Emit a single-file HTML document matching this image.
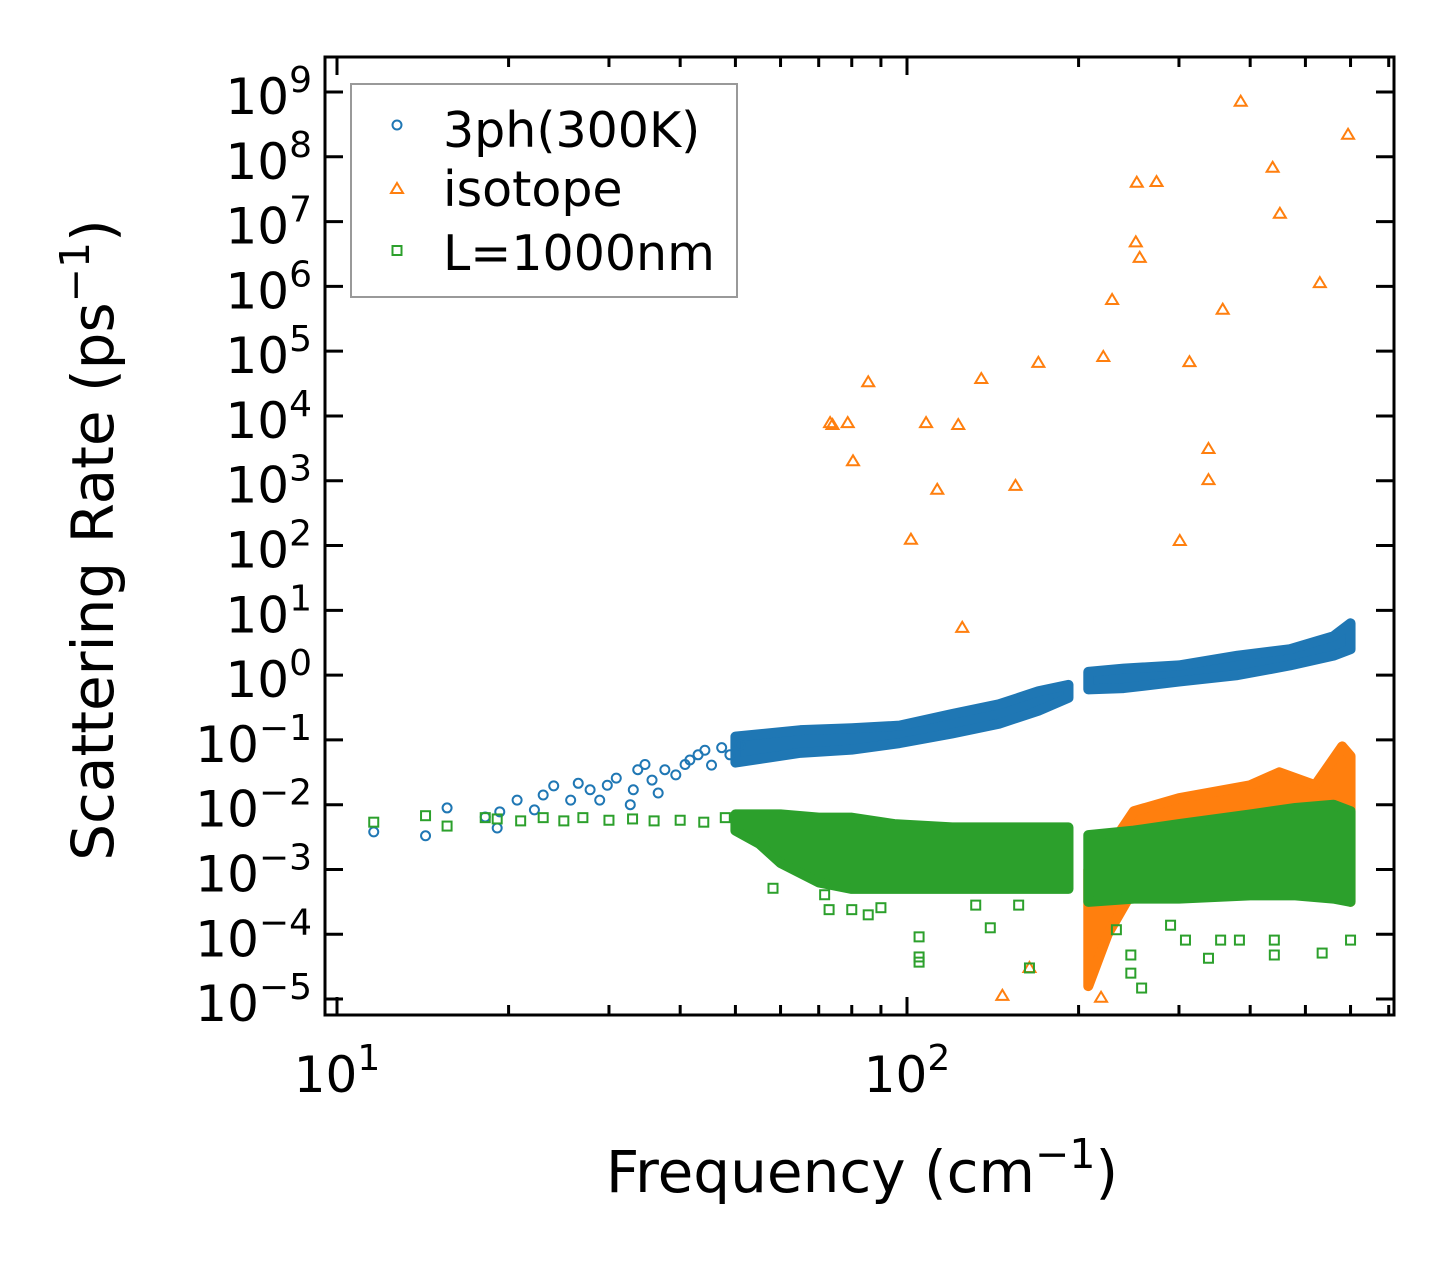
<!DOCTYPE html>
<html><head><meta charset="utf-8"><style>
body{margin:0;background:#fff}
svg text{font-family:"DejaVu Sans","Liberation Sans",sans-serif;fill:#000}
</style></head><body>
<svg id="chart" width="1455" height="1265" xmlns="http://www.w3.org/2000/svg">
<rect width="1455" height="1265" fill="#fff"/>
<g id="marks"></g>
<g id="axes"></g>
<g>
<rect x="351" y="84" width="386" height="213" fill="#fff" fill-opacity="0.8" stroke="#999" stroke-width="2"/>
<circle cx="397" cy="125" r="4.5" fill="none" stroke="#1f77b4" stroke-width="2"/>
<text x="443" y="147" font-size="49">3ph(300K)</text>
<polygon points="397,183 403,193 391,193" fill="none" stroke="#ff7f0e" stroke-width="2"/>
<text x="443" y="206" font-size="49">isotope</text>
<rect x="392.5" y="246" width="9" height="9" fill="none" stroke="#2ca02c" stroke-width="2"/>
<text x="443" y="270" font-size="49">L=1000nm</text>
</g>
<text x="862" y="1192" font-size="58" text-anchor="middle">Frequency (cm<tspan dy="-24" font-size="41">−1</tspan><tspan dy="24">)</tspan></text>
<text transform="translate(113,540) rotate(-90)" font-size="58" text-anchor="middle">Scattering Rate (ps<tspan dy="-24" font-size="41">−1</tspan><tspan dy="24">)</tspan></text>
</svg>
<script>
// ---- data ----
const blueFreq=[11.6,14.3,15.6,18.2,19.1,19.3,20.7,22.2,23,24,25.7,26.5,27.8,28.9,29.8,30.9,32.7,33.1,33.7,34.7,35.7,36.6,37.6,39.3,40.8,41.6,43,44.2,45.4,47.3,48.9,50.9];
const blueLog=[-2.42,-2.48,-2.05,-2.19,-2.36,-2.11,-1.93,-2.08,-1.85,-1.71,-1.93,-1.67,-1.77,-1.93,-1.70,-1.59,-2.0,-1.77,-1.46,-1.38,-1.62,-1.82,-1.46,-1.54,-1.38,-1.31,-1.23,-1.16,-1.39,-1.12,-1.23,-1.08];
const blueBand1Freq=[50,65,80,97,120,145,170,192];
const blueBand1Lo=[-1.35,-1.2,-1.15,-1.05,-0.9,-0.75,-0.55,-0.35];
const blueBand1Hi=[-0.95,-0.85,-0.82,-0.78,-0.6,-0.45,-0.25,-0.15];
const blueBand2Freq=[208,240,300,380,470,560,600];
const blueBand2Lo=[-0.22,-0.2,-0.1,0.0,0.15,0.3,0.4];
const blueBand2Hi=[0.05,0.1,0.15,0.3,0.4,0.6,0.8];

const isoFreq=[73.3,74,78.7,80.4,85.5,101.6,108,113,123,125,135,147,155,164,170,219,221,229,252,256,253,274,301,313,338,338,358,385,438,451,530,594];
const isoLog=[3.89,3.86,3.89,3.30,4.52,2.09,3.89,2.86,3.86,0.73,4.57,-4.95,2.92,-4.52,4.82,-4.98,4.91,5.79,6.68,6.44,7.60,7.61,2.07,4.83,3.49,3.01,5.64,8.85,7.83,7.12,6.05,8.34];
const isoBandFreq=[208,225,250,300,400,450,520,580,600];
const isoBandLo=[-4.8,-4.0,-3.3,-3.2,-3.0,-3.0,-2.9,-3.0,-3.5];
const isoBandHi=[-3.0,-2.7,-2.1,-1.9,-1.7,-1.5,-1.7,-1.1,-1.25];

const bFreq=[11.6,14.3,15.6,18.2,19.1,21,23,25,27,30,33,36,40,44,48,58.2,71.7,73,80,85.5,90,105,105,105,140,164,157,132,233,247,258,247,308,338,355,383,441,535,600,441,290];
const bLog=[-2.27,-2.17,-2.33,-2.2,-2.22,-2.25,-2.2,-2.25,-2.2,-2.24,-2.22,-2.25,-2.24,-2.27,-2.2,-3.29,-3.39,-3.62,-3.62,-3.70,-3.59,-4.04,-4.35,-4.43,-3.90,-4.52,-3.55,-3.55,-3.93,-4.60,-4.83,-4.32,-4.09,-4.37,-4.09,-4.09,-4.32,-4.29,-4.09,-4.09,-3.86];
const bBand1Freq=[50,55,60,70,80,95,120,150,192];
const bBand1Lo=[-2.4,-2.6,-2.9,-3.2,-3.3,-3.3,-3.3,-3.3,-3.3];
const bBand1Hi=[-2.15,-2.15,-2.15,-2.2,-2.2,-2.3,-2.35,-2.35,-2.35];
const bBand2Freq=[208,250,300,400,480,560,600];
const bBand2Lo=[-3.5,-3.45,-3.45,-3.4,-3.4,-3.45,-3.5];
const bBand2Hi=[-2.47,-2.4,-2.3,-2.15,-2.05,-2.0,-2.1];

const xTicks=[1,2];
const yTicks=[-5,-4,-3,-2,-1,0,1,2,3,4,5,6,7,8,9];

// ---- axes functions ----
const X0=325,X1=1394,Y0=57,Y1=1015;
const xs=f=>337+(Math.log10(f)-1)*570;
const ys=l=>92+(9-l)*64.79;
const NS='http://www.w3.org/2000/svg';
const marks=document.getElementById('marks'),axes=document.getElementById('axes');
function mk(tag,attrs,parent){const e=document.createElementNS(NS,tag);for(const k in attrs)e.setAttribute(k,attrs[k]);parent.appendChild(e);return e;}

function band(fr,lo,hi,color,name){
  let d='M'+fr.map((f,i)=>xs(f)+','+ys(hi[i])).join('L');
  for(let i=fr.length-1;i>=0;i--)d+='L'+xs(fr[i])+','+ys(lo[i]);
  const p=mk('path',{d:d+'Z',fill:color,stroke:color,'stroke-width':10,'stroke-linejoin':'round'},marks);
  
  
}
band(blueBand1Freq,blueBand1Lo,blueBand1Hi,'#1f77b4','band-3ph-low');
band(blueBand2Freq,blueBand2Lo,blueBand2Hi,'#1f77b4','band-3ph-high');
blueFreq.forEach((f,i)=>{
  const c=mk('circle',{cx:xs(f),cy:ys(blueLog[i]),r:4.5,fill:'none',stroke:'#1f77b4','stroke-width':2},marks);
  
  
});
band(isoBandFreq,isoBandLo,isoBandHi,'#ff7f0e','band-isotope');
isoFreq.forEach((f,i)=>{
  const x=xs(f),y=ys(isoLog[i]);
  const t=mk('polygon',{points:`${x},${y-6} ${x+6},${y+4} ${x-6},${y+4}`,fill:'none',stroke:'#ff7f0e','stroke-width':2},marks);
  
  
});
band(bBand1Freq,bBand1Lo,bBand1Hi,'#2ca02c','band-boundary-low');
band(bBand2Freq,bBand2Lo,bBand2Hi,'#2ca02c','band-boundary-high');
bFreq.forEach((f,i)=>{
  const x=xs(f),y=ys(bLog[i]);
  const r=mk('rect',{x:x-4.5,y:y-4.5,width:9,height:9,fill:'none',stroke:'#2ca02c','stroke-width':2},marks);
  
  
});

const fr=mk('rect',{x:X0,y:Y0,width:X1-X0,height:Y1-Y0,fill:'none',stroke:'#000','stroke-width':3},axes);


for(let d=1;d<=2;d++)for(let m=1;m<10;m++){
  const f=m*Math.pow(10,d);const x=xs(f);if(x>X1)continue;
  const L=m===1?18:10;
  mk('line',{x1:x,y1:Y1,x2:x,y2:Y1-L,stroke:'#000','stroke-width':3},axes);
  mk('line',{x1:x,y1:Y0,x2:x,y2:Y0+L,stroke:'#000','stroke-width':3},axes);
}
xTicks.forEach(p=>{
  const t=mk('text',{x:xs(Math.pow(10,p)),y:1092,'font-size':50,'text-anchor':'middle'},axes);
  
  
  t.innerHTML=`10<tspan dy="-22" font-size="36">${p}</tspan>`;
});
yTicks.forEach(p=>{
  const y=ys(p);
  mk('line',{x1:X0,y1:y,x2:X0+18,y2:y,stroke:'#000','stroke-width':3},axes);
  mk('line',{x1:X1,y1:y,x2:X1-18,y2:y,stroke:'#000','stroke-width':3},axes);
  const t=mk('text',{x:312,y:y+22,'font-size':50,'text-anchor':'end'},axes);
  
  
  const s=p<0?'−'+(-p):''+p;
  t.innerHTML=`10<tspan dy="-22" font-size="36">${s}</tspan>`;
});
</script>
</body></html>
